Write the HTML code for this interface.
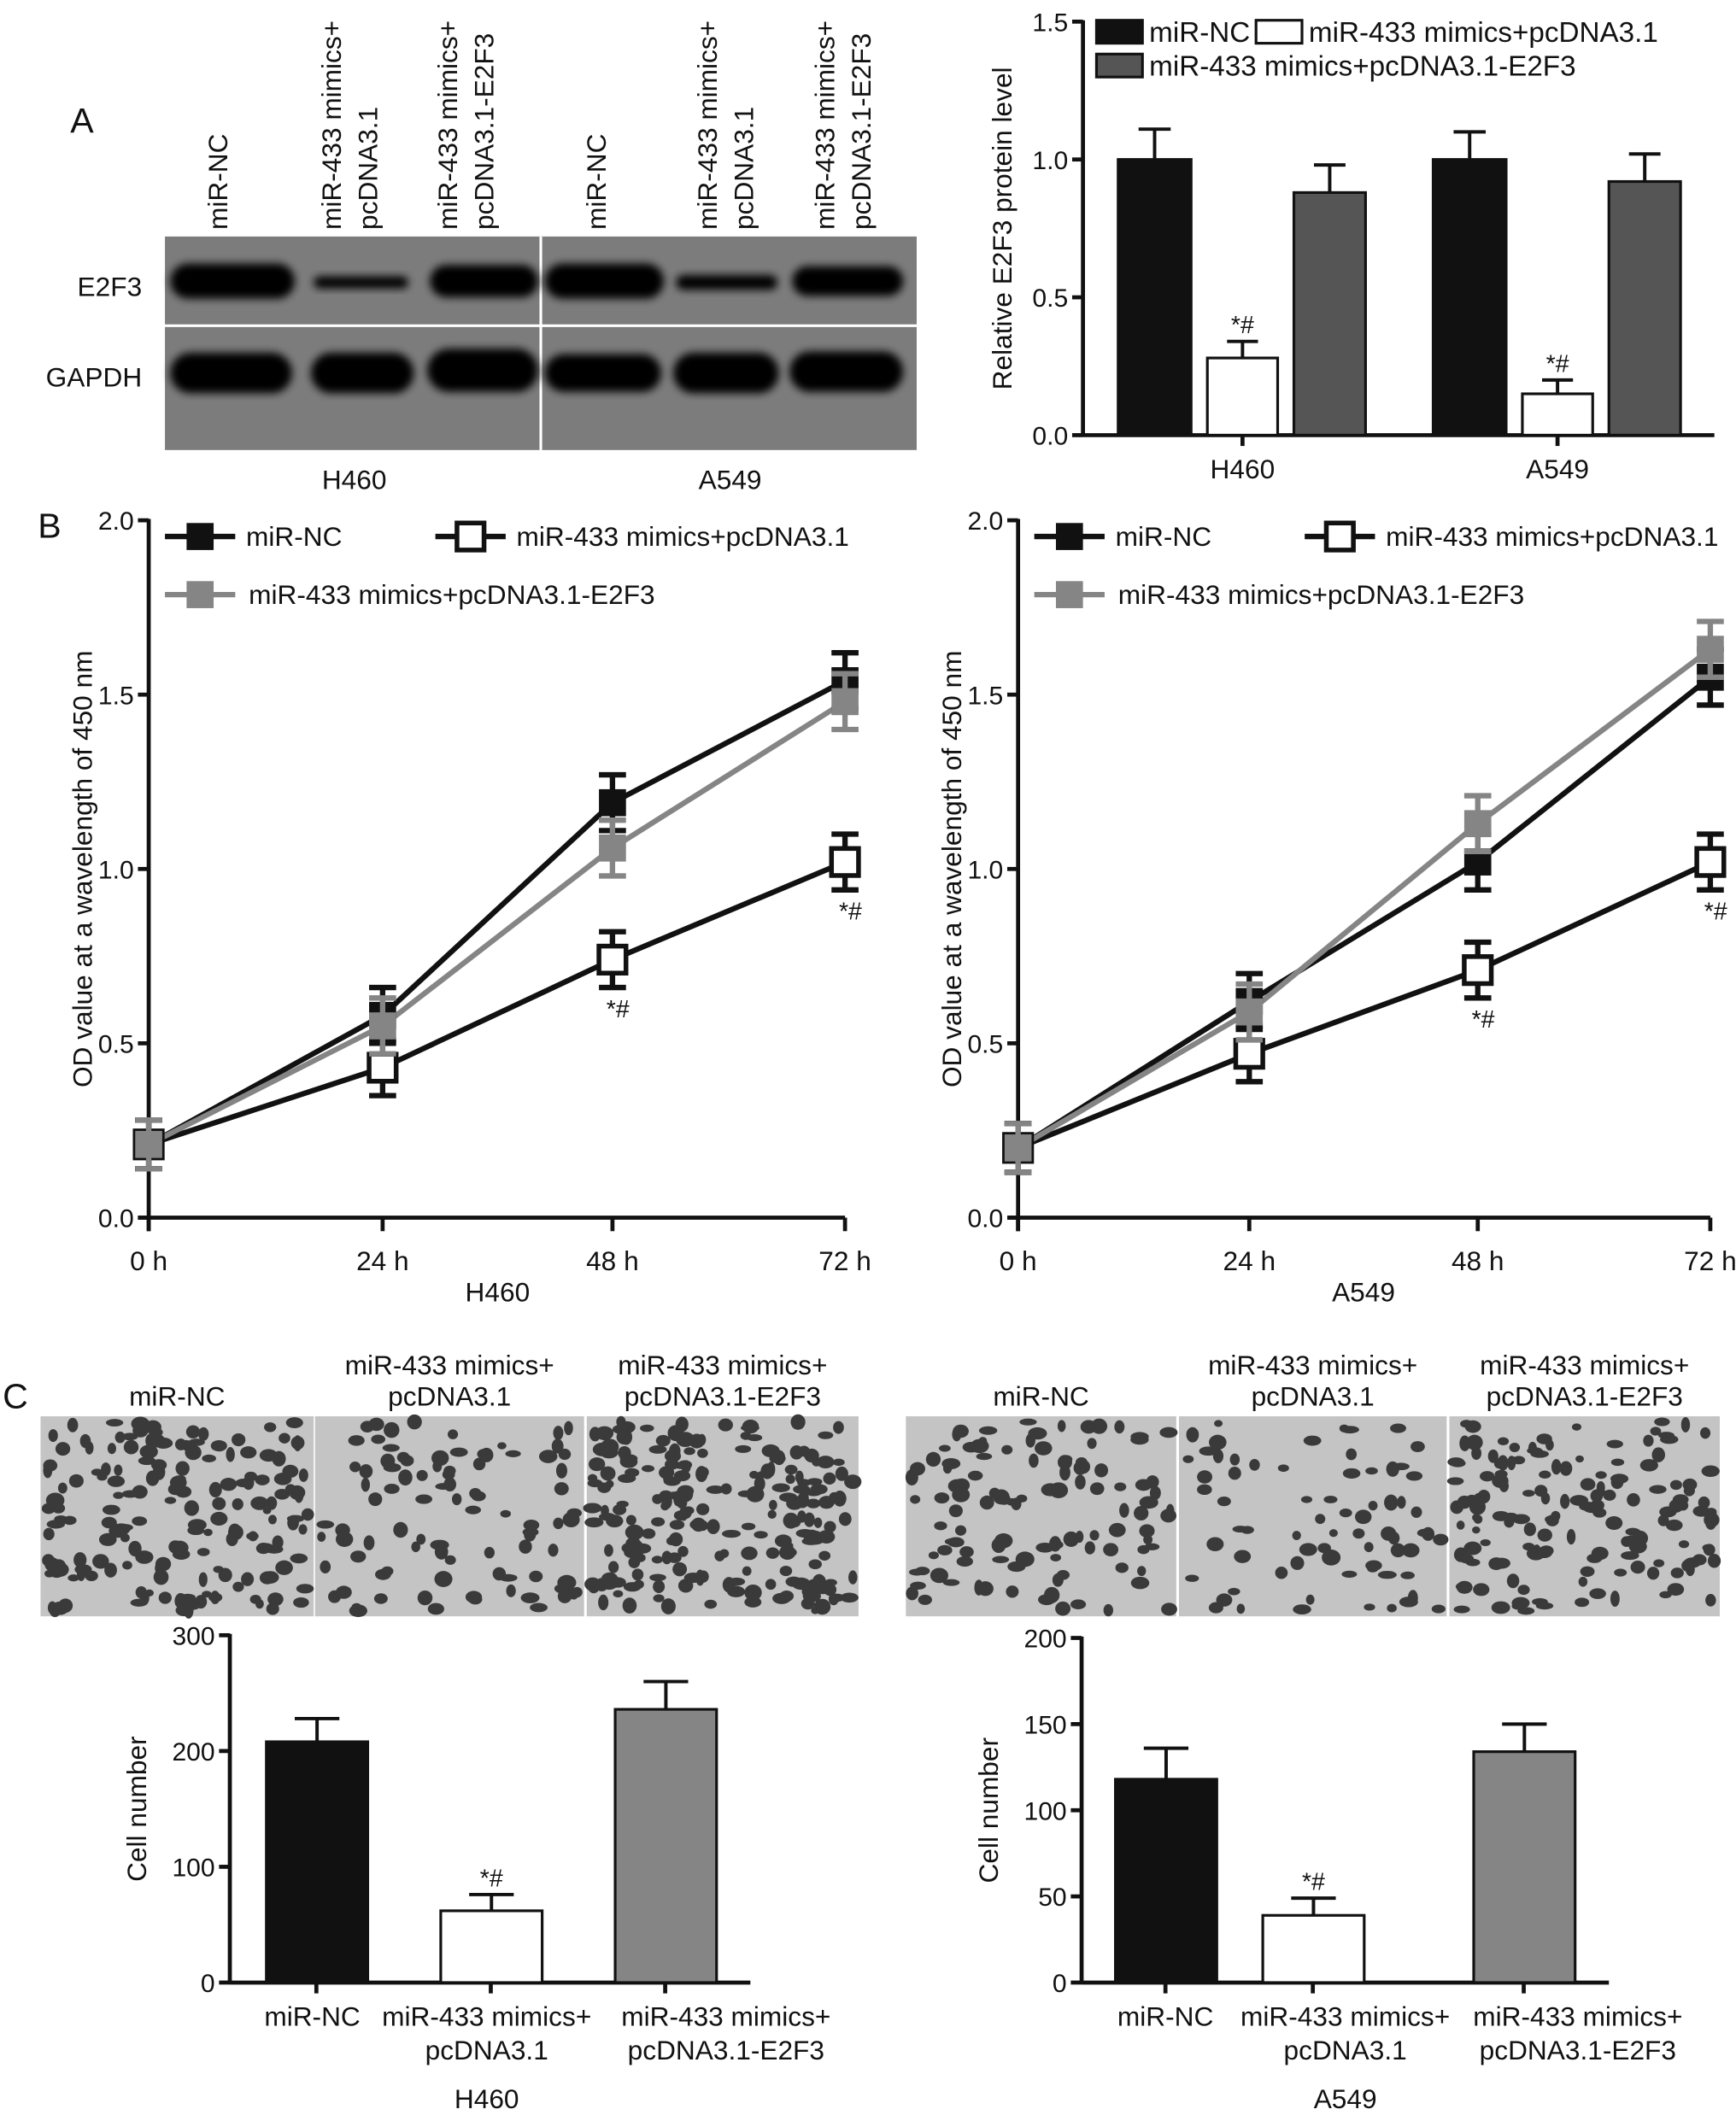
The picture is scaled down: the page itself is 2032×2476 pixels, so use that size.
<!DOCTYPE html>
<html><head><meta charset="utf-8">
<style>
html,body{margin:0;padding:0;background:#fff;}
svg{display:block;}
text{font-family:"Liberation Sans",Arial,sans-serif;fill:#111;}
</style></head>
<body>
<svg id="fig" xmlns="http://www.w3.org/2000/svg" width="2032" height="2476" viewBox="0 0 1284 1565" preserveAspectRatio="none">
<defs>
<filter id="blur" x="-20%" y="-50%" width="140%" height="200%"><feGaussianBlur stdDeviation="3"/></filter>
</defs>
<g id="panelA">
  <text x="52" y="98" font-size="26">A</text>
  <g id="blot"></g>
  <g id="barA"></g>
</g>
<g id="panelB">
  <text x="28" y="398" font-size="26">B</text>
  <g id="lineL"></g>
  <g id="lineR"></g>
</g>
<g id="panelC">
  <text x="2" y="1042" font-size="26">C</text>
  <g id="imgs"></g>
  <g id="barL"></g>
  <g id="barR"></g>
</g>
</svg>
<script>
// ---- Panel A bar data ----
const aCells = ["H460", "A549"];
const aNC = [1.0, 1.0];
const aNCerr = [0.11, 0.10];
const aMim = [0.28, 0.15];
const aMimErr = [0.06, 0.05];
const aE2 = [0.88, 0.92];
const aE2err = [0.10, 0.10];
const aTicks = [0.0, 0.5, 1.0, 1.5];

// ---- Panel B line data ----
const bTimes = ["0 h", "24 h", "48 h", "72 h"];
const bTicks = [0.0, 0.5, 1.0, 1.5, 2.0];
const h460NC = [0.21, 0.58, 1.19, 1.54];
const h460Mim = [0.21, 0.43, 0.74, 1.02];
const h460E2 = [0.21, 0.55, 1.06, 1.48];
const a549NC = [0.20, 0.62, 1.02, 1.55];
const a549Mim = [0.20, 0.47, 0.71, 1.02];
const a549E2 = [0.20, 0.59, 1.13, 1.63];
const bErr = [0.07, 0.08, 0.08, 0.08];

// ---- Panel C bar data ----
const cGroups = ["miR-NC", "miR-433 mimics+|pcDNA3.1", "miR-433 mimics+|pcDNA3.1-E2F3"];
const h460Cells = [208, 62, 236];
const h460CellsErr = [20, 14, 24];
const h460Ticks = [0, 100, 200, 300];
const a549Cells = [118, 39, 134];
const a549CellsErr = [18, 10, 16];
const a549Ticks = [0, 50, 100, 150, 200];

const NS = "http://www.w3.org/2000/svg";
function mk(parent, tag, attrs, txt) {
  const e = document.createElementNS(NS, tag);
  for (const k in attrs) e.setAttribute(k, attrs[k]);
  if (txt !== undefined) e.textContent = txt;
  parent.appendChild(e);
  return e;
}
const BLACK = "#111", GRAY = "#858585";
const FS = 20;

// ===== Western blot =====
(function () {
  const g = document.getElementById("blot");
  let r = mk(g, "rect", {x: 122, y: 175, width: 556, height: 158, fill: "#7c7c7c"});
  
  
  mk(g, "line", {x1: 400, y1: 175, x2: 400, y2: 333, stroke: "#fff", "stroke-width": 2});
  mk(g, "line", {x1: 122, y1: 241, x2: 678, y2: 241, stroke: "#fff", "stroke-width": 2});
  let t = mk(g, "text", {x: 105, y: 219, "font-size": FS, "text-anchor": "end"}, "E2F3");
  
  
  t = mk(g, "text", {x: 105, y: 286, "font-size": FS, "text-anchor": "end"}, "GAPDH");
  
  
  const bands = [
    [126, 92, 208, 26], [232, 70, 209, 9], [318, 80, 208, 24],
    [403, 88, 208, 26], [500, 75, 209, 11], [586, 82, 208, 22],
    [126, 90, 276, 30], [230, 76, 276, 30], [316, 82, 274, 32],
    [403, 86, 276, 28], [498, 78, 276, 30], [584, 84, 275, 30]
  ];
  bands.forEach(b => {
    const e = mk(g, "rect", {x: b[0], y: b[2] - b[3] / 2, width: b[1], height: b[3], rx: b[3] / 2, fill: "#050505", filter: "url(#blur)"});
    
    
  });
  const lanes = [[162, ["miR-NC"]], [252, ["miR-433 mimics+", "pcDNA3.1"]], [338, ["miR-433 mimics+", "pcDNA3.1-E2F3"]],
                 [442, ["miR-NC"]], [530, ["miR-433 mimics+", "pcDNA3.1"]], [617, ["miR-433 mimics+", "pcDNA3.1-E2F3"]]];
  lanes.forEach(l => {
    l[1].forEach((s, i) => {
      const x = l[0] + (l[1].length === 1 ? 6 : i * 27);
      const e = mk(g, "text", {x: 0, y: 0, "font-size": FS, transform: `translate(${x},170) rotate(-90)`}, s);
      
      
    });
  });
  t = mk(g, "text", {x: 262, y: 362, "font-size": FS, "text-anchor": "middle"}, "H460");
  
  
  t = mk(g, "text", {x: 540, y: 362, "font-size": FS, "text-anchor": "middle"}, "A549");
  
  
})();

// ===== Generic bar chart =====
function barChart(g, o) {
  const y = v => o.y0 - (v - o.vmin) / (o.vmax - o.vmin) * (o.y0 - o.y1);
  const ax = mk(g, "line", {x1: o.ax, y1: o.y1 - 1, x2: o.ax, y2: o.y0 + 1, stroke: BLACK, "stroke-width": 3});
  
  
  const xa = mk(g, "line", {x1: o.ax, y1: o.y0, x2: o.xEnd, y2: o.y0, stroke: BLACK, "stroke-width": 3});
  
  
  o.ticks.forEach(v => {
    mk(g, "line", {x1: o.ax - 8, y1: y(v), x2: o.ax, y2: y(v), stroke: BLACK, "stroke-width": 3});
    const t = mk(g, "text", {x: o.ax - 11, y: y(v) + 7, "font-size": 19, "text-anchor": "end"}, o.fmt(v));
    
    
  });
  const yl = mk(g, "text", {x: 0, y: 0, "font-size": FS, "text-anchor": "middle", transform: `translate(${o.ylx},${(o.y0 + o.y1) / 2}) rotate(-90)`}, o.ylabel);
  
  
  o.bars.forEach(b => {
    const top = y(b.v), et = y(b.v + b.e), cx = b.x + b.w / 2;
    mk(g, "line", {x1: cx, y1: top, x2: cx, y2: et, stroke: BLACK, "stroke-width": 2.5});
    mk(g, "line", {x1: cx - b.w * 0.22, y1: et, x2: cx + b.w * 0.22, y2: et, stroke: BLACK, "stroke-width": 2.5});
    const r = mk(g, "rect", {x: b.x, y: top, width: b.w, height: o.y0 - top, fill: b.c, stroke: BLACK, "stroke-width": 2});
    
    
    if (b.star) {
      const s = mk(g, "text", {x: cx, y: et - 6, "font-size": 18, "text-anchor": "middle"}, "*#");
      
      
    }
  });
}

// Panel A bars
(function () {
  const g = document.getElementById("barA");
  const starts = [827, 1060];
  const bars = [];
  aCells.forEach((c, i) => {
    const s = starts[i];
    bars.push({x: s, w: 54, v: aNC[i], e: aNCerr[i], c: BLACK, name: "bar-" + c.toLowerCase() + "-mir-nc"});
    bars.push({x: s + 66, w: 52, v: aMim[i], e: aMimErr[i], c: "#fff", name: "bar-" + c.toLowerCase() + "-mimics", star: true});
    bars.push({x: s + 130, w: 53, v: aE2[i], e: aE2err[i], c: "#555", name: "bar-" + c.toLowerCase() + "-e2f3"});
  });
  barChart(g, {ax: 801, y0: 322, y1: 16, vmin: 0, vmax: 1.5, xEnd: 1268, ticks: aTicks, fmt: v => v.toFixed(1),
    ylabel: "Relative E2F3 protein level", ylx: 748, bars});
  aCells.forEach((c, i) => {
    const x = starts[i] + 92;
    mk(g, "line", {x1: x, y1: 322, x2: x, y2: 330, stroke: BLACK, "stroke-width": 3});
    const t = mk(g, "text", {x: x, y: 354, "font-size": FS, "text-anchor": "middle"}, c);
    
    
  });
  const leg = [[811, 15, BLACK, "miR-NC", 850], [929, 15, "#fff", "miR-433 mimics+pcDNA3.1", 968], [811, 40, "#555", "miR-433 mimics+pcDNA3.1-E2F3", 850]];
  leg.forEach(l => {
    const r = mk(g, "rect", {x: l[0], y: l[1], width: 34, height: 17, fill: l[2], stroke: BLACK, "stroke-width": 2});
    
    
    const t = mk(g, "text", {x: l[4], y: l[1] + 16, "font-size": 21}, l[3]);
    
    
  });
})();

// ===== Line charts =====
function lineChart(g, ax, xs, series, cell) {
  const y0 = 901, y1 = 385;
  const y = v => y0 - v / 2.0 * (y0 - y1);
  const a = mk(g, "line", {x1: ax, y1: y1 - 1, x2: ax, y2: y0 + 10, stroke: BLACK, "stroke-width": 3});
  
  
  const xa = mk(g, "line", {x1: ax - 8, y1: y0, x2: xs[3], y2: y0, stroke: BLACK, "stroke-width": 3});
  
  
  bTicks.forEach(v => {
    mk(g, "line", {x1: ax - 8, y1: y(v), x2: ax, y2: y(v), stroke: BLACK, "stroke-width": 3});
    const t = mk(g, "text", {x: ax - 11, y: y(v) + 7, "font-size": 19, "text-anchor": "end"}, v.toFixed(1));
    
    
  });
  bTimes.forEach((s, i) => {
    mk(g, "line", {x1: xs[i], y1: y0, x2: xs[i], y2: y0 + 10, stroke: BLACK, "stroke-width": 3});
    const t = mk(g, "text", {x: xs[i], y: y0 + 39, "font-size": FS, "text-anchor": "middle"}, s);
    
    
  });
  const ct = mk(g, "text", {x: (xs[1] + xs[2]) / 2, y: 963, "font-size": FS, "text-anchor": "middle"}, cell);
  
  
  const yl = mk(g, "text", {x: 0, y: 0, "font-size": FS, "text-anchor": "middle", transform: `translate(${ax - 42},${(y0 + y1) / 2}) rotate(-90)`}, "OD value at a wavelength of 450 nm");
  
  
  series.forEach(s => {
    const pts = s.v.map((v, i) => xs[i] + "," + y(v)).join(" ");
    const pl = mk(g, "polyline", {points: pts, fill: "none", stroke: s.line, "stroke-width": 4});
    
    
  });
  series.forEach(s => {
    s.v.forEach((v, i) => {
      const cx = xs[i], cy = y(v), e = bErr[i];
      mk(g, "line", {x1: cx, y1: y(v - e), x2: cx, y2: y(v + e), stroke: s.line, "stroke-width": 4});
      mk(g, "line", {x1: cx - 10, y1: y(v - e), x2: cx + 10, y2: y(v - e), stroke: s.line, "stroke-width": 4});
      mk(g, "line", {x1: cx - 10, y1: y(v + e), x2: cx + 10, y2: y(v + e), stroke: s.line, "stroke-width": 4});
      const r = mk(g, "rect", {x: cx - 10, y: cy - 10, width: 20, height: 20, fill: s.fill, stroke: s.line, "stroke-width": s.fill === "#fff" ? 3.5 : 0});
      
      
      if (s.star && i >= 2) {
        const t = mk(g, "text", {x: cx + 4, y: y(v - e) + 22, "font-size": 18, "text-anchor": "middle"}, "*#");
        
        
      }
    });
  });
  const L = [[ax + 12, 397, BLACK, BLACK, "miR-NC", ax + 72], [ax + 212, 397, BLACK, "#fff", "miR-433 mimics+pcDNA3.1", ax + 272], [ax + 12, 440, GRAY, GRAY, "miR-433 mimics+pcDNA3.1-E2F3", ax + 74]];
  L.forEach(l => {
    mk(g, "line", {x1: l[0], y1: l[1], x2: l[0] + 52, y2: l[1], stroke: l[2], "stroke-width": 4});
    const r = mk(g, "rect", {x: l[0] + 16, y: l[1] - 10, width: 20, height: 20, fill: l[3], stroke: l[2], "stroke-width": l[3] === "#fff" ? 3.5 : 0});
    
    
    const t = mk(g, "text", {x: l[5], y: l[1] + 7, "font-size": FS}, l[4]);
    
    
  });
}
lineChart(document.getElementById("lineL"), 110, [110, 283, 453, 625], [
  {v: h460NC, line: BLACK, fill: BLACK, name: "h460-mir-nc"},
  {v: h460Mim, line: BLACK, fill: "#fff", name: "h460-mimics", star: true},
  {v: h460E2, line: GRAY, fill: GRAY, name: "h460-e2f3"}], "H460");
lineChart(document.getElementById("lineR"), 753, [753, 924, 1093, 1265], [
  {v: a549NC, line: BLACK, fill: BLACK, name: "a549-mir-nc"},
  {v: a549Mim, line: BLACK, fill: "#fff", name: "a549-mimics", star: true},
  {v: a549E2, line: GRAY, fill: GRAY, name: "a549-e2f3"}], "A549");

// ===== Panel C images (decorative texture) =====
(function () {
  const g = document.getElementById("imgs");
  const panels = [[30, 232, 170, 1], [233, 432, 90, 2], [434, 635, 220, 3], [670, 870, 110, 4], [872, 1070, 70, 5], [1072, 1272, 150, 6]];
  const heads = [["miR-NC"], ["miR-433 mimics+", "pcDNA3.1"], ["miR-433 mimics+", "pcDNA3.1-E2F3"]];
  panels.forEach((p, k) => {
    const r = mk(g, "rect", {x: p[0], y: 1048, width: p[1] - p[0], height: 148, fill: "#c4c4c4"});
    
    
    let seed = p[3] * 9973 + 17;
    const rnd = () => { seed = (seed * 1103515245 + 12345) % 2147483648; return seed / 2147483648; };
    for (let i = 0; i < p[2]; i++) {
      mk(g, "ellipse", {cx: p[0] + 4 + rnd() * (p[1] - p[0] - 8), cy: 1052 + rnd() * 140, rx: 3 + rnd() * 4, ry: 2.5 + rnd() * 3.5, fill: "#3a3a3a"});
    }
    const h = heads[k % 3];
    const cx = (p[0] + p[1]) / 2;
    h.forEach((s, i) => {
      const t = mk(g, "text", {x: cx, y: (h.length === 1 ? 1040 : 1017) + i * 23, "font-size": FS, "text-anchor": "middle"}, s);
      
      
    });
  });
})();

function cellBars(gid, ax, y1, vals, errs, ticks, vmax, xs, labX, cell) {
  const g = document.getElementById(gid);
  const cols = [BLACK, "#fff", GRAY];
  const bars = vals.map((v, i) => ({x: xs[i], w: 75, v: v, e: errs[i], c: cols[i], name: "bar-" + cell.toLowerCase() + "-" + i, star: i === 1}));
  barChart(g, {ax: ax, y0: 1467, y1: y1, vmin: 0, vmax: vmax, xEnd: xs[2] + 100, ticks: ticks, fmt: v => String(v),
    ylabel: "Cell number", ylx: ax - 62, bars});
  cGroups.forEach((s, i) => {
    mk(g, "line", {x1: xs[i] + 37, y1: 1467, x2: xs[i] + 37, y2: 1475, stroke: BLACK, "stroke-width": 3});
    s.split("|").forEach((line, j) => {
      const t = mk(g, "text", {x: labX[i], y: 1499 + j * 25, "font-size": FS, "text-anchor": "middle"}, line);
      
      
    });
  });
  const t = mk(g, "text", {x: labX[1], y: 1560, "font-size": FS, "text-anchor": "middle"}, cell);
  
  
}
cellBars("barL", 170, 1210, h460Cells, h460CellsErr, h460Ticks, 300, [197, 326, 455], [231, 360, 537], "H460");
cellBars("barR", 800, 1212, a549Cells, a549CellsErr, a549Ticks, 200, [825, 934, 1090], [862, 995, 1167], "A549");
</script>
</body></html>
